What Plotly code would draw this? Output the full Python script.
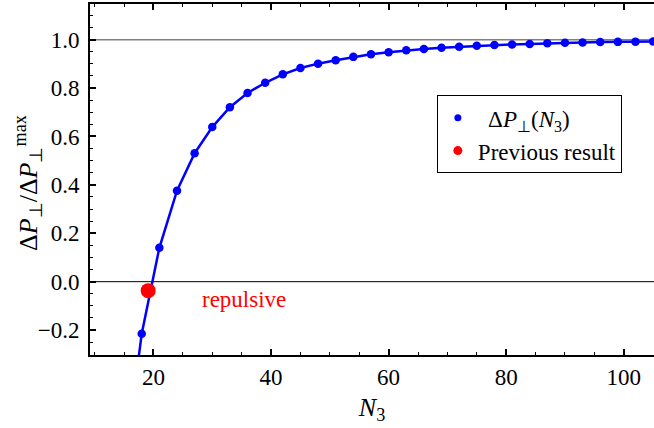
import plotly.graph_objects as go

# ---- data ----
N3 = [15, 18, 21, 24, 27, 30, 33, 36, 39, 42, 45, 48, 51, 54, 57, 60, 63, 66,
      69, 72, 75, 78, 81, 84, 87, 90, 93, 96, 99, 102, 105]
dP_ratio = [-0.78, -0.215, 0.140, 0.376, 0.531, 0.639, 0.721, 0.780, 0.822,
            0.857, 0.883, 0.901, 0.915, 0.929, 0.940, 0.948, 0.956, 0.962,
            0.967, 0.971, 0.975, 0.978, 0.980, 0.982, 0.985, 0.987, 0.988,
            0.990, 0.991, 0.992, 0.993]
prev_N3 = [19.1]
prev_ratio = [-0.037]
ref_levels = [1.0, 0.0]
ref_colors = ["#808080", "#000000"]
ref_widths = [1.6, 1.0]
label_text = "repulsive"
label_pos = (35.4, -0.075)

FONT = "'Liberation Serif', 'Times New Roman', serif"
BLUE = "#0000ff"
RED = "#ff0000"

fig = go.Figure()

# reference horizontal lines
for lvl, col, w in zip(ref_levels, ref_colors, ref_widths):
    fig.add_hline(y=lvl, line=dict(color=col, width=w), layer="below")

# curve (line only, no legend entry)
fig.add_trace(go.Scatter(x=N3, y=dP_ratio, mode="lines",
                         line=dict(color=BLUE, width=2.5),
                         showlegend=False, hoverinfo="skip"))
# points of the curve
fig.add_trace(go.Scatter(x=N3, y=dP_ratio, mode="markers",
                         marker=dict(color=BLUE, size=8.5),
                         showlegend=False))
# previous result
fig.add_trace(go.Scatter(x=prev_N3, y=prev_ratio, mode="markers",
                         marker=dict(color=RED, size=15),
                         showlegend=False))
# legend entries
fig.add_trace(go.Scatter(x=[None], y=[None], mode="markers",
                         marker=dict(color=BLUE, size=7),
                         name="  Δ<i>P</i><sub>⊥</sub>(<i>N</i><sub>3</sub>)"))
fig.add_trace(go.Scatter(x=[None], y=[None], mode="markers",
                         marker=dict(color=RED, size=9),
                         name="Previous result"))

fig.add_annotation(x=label_pos[0], y=label_pos[1], text=label_text,
                   showarrow=False, xanchor="center", yanchor="middle",
                   font=dict(family=FONT, size=23, color=RED))

# y-axis title as annotation for precise placement
fig.add_annotation(xref="paper", yref="paper", x=-0.11, y=0.49,
                   text="Δ<i>P</i><sub>⊥</sub>/Δ<i>P</i><sub>⊥</sub><sup>max</sup>",
                   textangle=-90, showarrow=False,
                   xanchor="center", yanchor="middle",
                   font=dict(family=FONT, size=26, color="black"))

fig.update_layout(
    width=654, height=428,
    margin=dict(l=90, r=0, t=4, b=73, autoexpand=False),
    paper_bgcolor="white", plot_bgcolor="white",
    font=dict(family=FONT, size=22, color="black"),
    legend=dict(x=0.615, y=0.74, xanchor="left", yanchor="top",
                bgcolor="white", bordercolor="black", borderwidth=1,
                font=dict(family=FONT, size=23, color="black"),
                itemwidth=30, tracegroupgap=0),
    showlegend=True,
)

fig.update_xaxes(
    range=[9.2, 105.15], showgrid=False, zeroline=False, automargin=False,
    showline=True, linecolor="black", linewidth=2, mirror="allticks",
    ticks="inside", ticklen=6, tickwidth=1.5, tickcolor="black",
    dtick=20, tick0=0,
    minor=dict(ticks="inside", ticklen=3, tickwidth=1.2, dtick=5, tick0=0,
               tickcolor="black", showgrid=False),
    tickfont=dict(family=FONT, size=23),
    title=dict(text="<i>N</i><sub>3</sub>", font=dict(family=FONT, size=26),
               standoff=9),
)
fig.update_yaxes(
    range=[-0.303, 1.1475], showgrid=False, zeroline=False, automargin=False,
    showline=True, linecolor="black", linewidth=2, mirror=False,
    ticks="inside", ticklen=6, tickwidth=1.5, tickcolor="black",
    dtick=0.2, tick0=0, tickformat=".1f",
    minor=dict(ticks="inside", ticklen=3, tickwidth=1.2, dtick=0.05, tick0=0,
               tickcolor="black", showgrid=False),
    tickfont=dict(family=FONT, size=23),
    ticklabelstandoff=4,
)

fig.write_html("out.html",
               config={"displayModeBar": False},
               post_script="document.body.style.margin='0';"
                           "document.body.style.padding='0';")
